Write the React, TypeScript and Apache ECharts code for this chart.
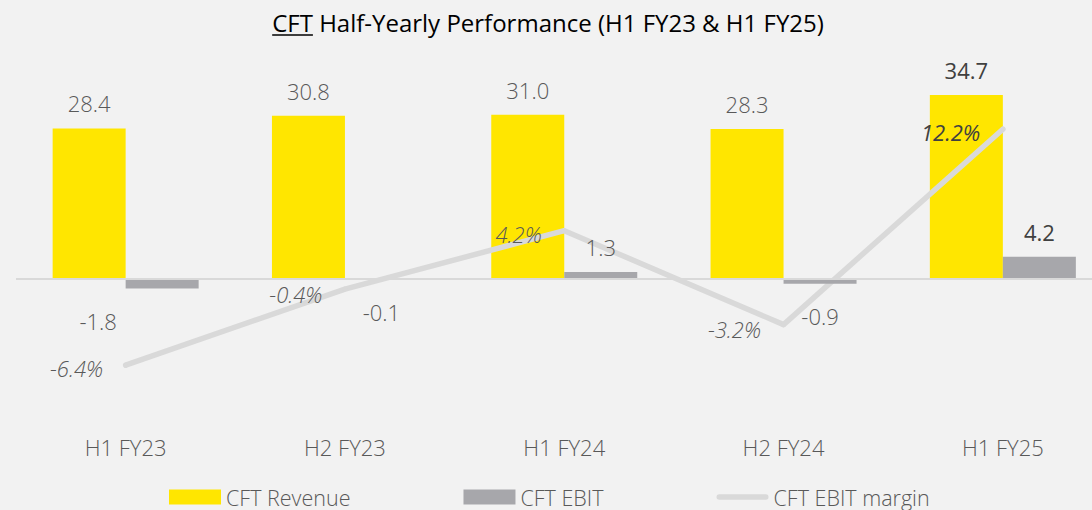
import React, { useEffect, useRef } from 'react';
import * as echarts from 'echarts';

const categories = ['H1 FY23', 'H2 FY23', 'H1 FY24', 'H2 FY24', 'H1 FY25'];
const revenue = [28.4, 30.8, 31.0, 28.3, 34.7];
const ebit = [-1.8, -0.1, 1.3, -0.9, 4.2];
const margin = [-6.4, -0.4, 4.2, -3.2, 12.2];
const seriesNames = ['CFT Revenue', 'CFT EBIT', 'CFT EBIT margin'];
const titleUnderlined = 'CFT';
const titleRest = ' Half-Yearly Performance (H1 FY23 & H1 FY25)';

const FONT = '"Open Sans", "Segoe UI", sans-serif';
const GREY_TXT = '#595959';
const DARK_TXT = '#404040';

export default function App() {
  const ref = useRef<HTMLDivElement>(null);
  useEffect(() => {
    if (!ref.current) return;
    const chart = echarts.init(ref.current, null, { renderer: 'svg' });
    const fullTitle = titleUnderlined + titleRest;
    const canvas = document.createElement('canvas');
    const ctx = canvas.getContext('2d')!;
    ctx.font = `400 24px ${FONT}`;
    const wAll = ctx.measureText(fullTitle).width;
    const wU = ctx.measureText(titleUnderlined).width;
    const tx = 548 - wAll / 2;
    const last = categories.length - 1;

    const revData = revenue.map((v, i) => ({
      value: v,
      label: i === last ? { color: DARK_TXT, fontWeight: 400 } : {},
    }));
    const ebitData = ebit.map((v, i) => {
      const lab: any = v < 0 ? { position: 'bottom', distance: 21 } : { position: 'top', distance: 14 };
      if (i === 0) lab.offset = [-64, 0];
      if (i === last) { lab.color = DARK_TXT; lab.fontWeight = 400; }
      return { value: v, label: lab };
    });
    const marginData = margin.map((v, i) => {
      const lab: any = { offset: [0, 3] };
      if (i === 1) lab.offset = [0, 5];
      if (i === 3) lab.offset = [0, 4];
      if (i === last) { lab.color = DARK_TXT; lab.fontWeight = 400; }
      return { value: v, label: lab };
    });

    chart.setOption({
      animation: false,
      backgroundColor: '#F2F2F2',
      textStyle: { fontFamily: FONT },
      graphic: [
        {
          type: 'text',
          x: tx,
          y: 22,
          style: {
            text: fullTitle,
            font: `400 24px ${FONT}`,
            fill: '#000000',
            textVerticalAlign: 'middle',
          },
        },
        {
          type: 'line',
          shape: { x1: tx, y1: 35, x2: tx + wU, y2: 35 },
          style: { stroke: '#000000', lineWidth: 1.5 },
        },
      ],
      legend: {
        left: 169,
        top: 486,
        padding: 0,
        itemWidth: 52,
        itemHeight: 15,
        itemGap: 113,
        textStyle: { fontSize: 21.5, fontWeight: 300, color: GREY_TXT, fontFamily: FONT },
        data: [
          { name: seriesNames[0], icon: 'rect' },
          { name: seriesNames[1], icon: 'rect' },
          { name: seriesNames[2], icon: 'path://M3,0L54,0A3,3,0,0,1,54,6L3,6A3,3,0,0,1,3,0Z' },
        ],
      },
      grid: { left: 16, right: 0.5, top: 67, bottom: 82.6, containLabel: false },
      xAxis: {
        type: 'category',
        data: categories,
        axisLine: { show: false },
        axisTick: { show: false },
        axisLabel: { fontSize: 22, fontWeight: 300, color: GREY_TXT, margin: 9, fontFamily: FONT },
        splitLine: { show: false },
      },
      yAxis: [
        { type: 'value', min: -28, max: 40, show: false, splitLine: { show: false } },
        { type: 'value', min: -11.3, max: 17.1, show: false, splitLine: { show: false } },
      ],
      series: [
        {
          name: seriesNames[0],
          type: 'bar',
          z: 2,
          data: revData,
          barWidth: 73,
          barGap: '0%',
          itemStyle: { color: '#FFE600' },
          label: {
            show: true,
            position: 'top',
            distance: 14,
            fontSize: 22,
            fontWeight: 300,
            color: GREY_TXT,
            fontFamily: FONT,
            formatter: (p: any) => Number(p.value).toFixed(1),
          },
          markLine: {
            silent: true,
            symbol: 'none',
            label: { show: false },
            lineStyle: { color: '#D9D9D9', width: 2, type: 'solid' },
            data: [{ yAxis: 0 }],
          },
        },
        {
          name: seriesNames[1],
          type: 'bar',
          z: 4,
          data: ebitData,
          barWidth: 73,
          barGap: '0%',
          itemStyle: { color: '#A7A7AB' },
          label: {
            show: true,
            fontSize: 22,
            fontWeight: 300,
            color: GREY_TXT,
            fontFamily: FONT,
            formatter: (p: any) => Number(p.value).toFixed(1),
          },
        },
        {
          name: seriesNames[2],
          type: 'line',
          z: 3,
          yAxisIndex: 1,
          data: marginData,
          symbol: 'circle',
          symbolSize: 5,
          showSymbol: true,
          itemStyle: { color: '#D9D9D9' },
          lineStyle: { color: '#D9D9D9', width: 5.5, cap: 'round', join: 'round' },
          label: {
            show: true,
            position: 'left',
            distance: 20,
            fontSize: 22,
            fontWeight: 300,
            fontStyle: 'italic',
            color: GREY_TXT,
            fontFamily: FONT,
            formatter: (p: any) => Number(p.value).toFixed(1) + '%',
          },
        },
      ],
    });
    return () => chart.dispose();
  }, []);
  return <div ref={ref} style={{ position: 'fixed', left: 0, top: 0, width: 1113, height: 510 }} />;
}
